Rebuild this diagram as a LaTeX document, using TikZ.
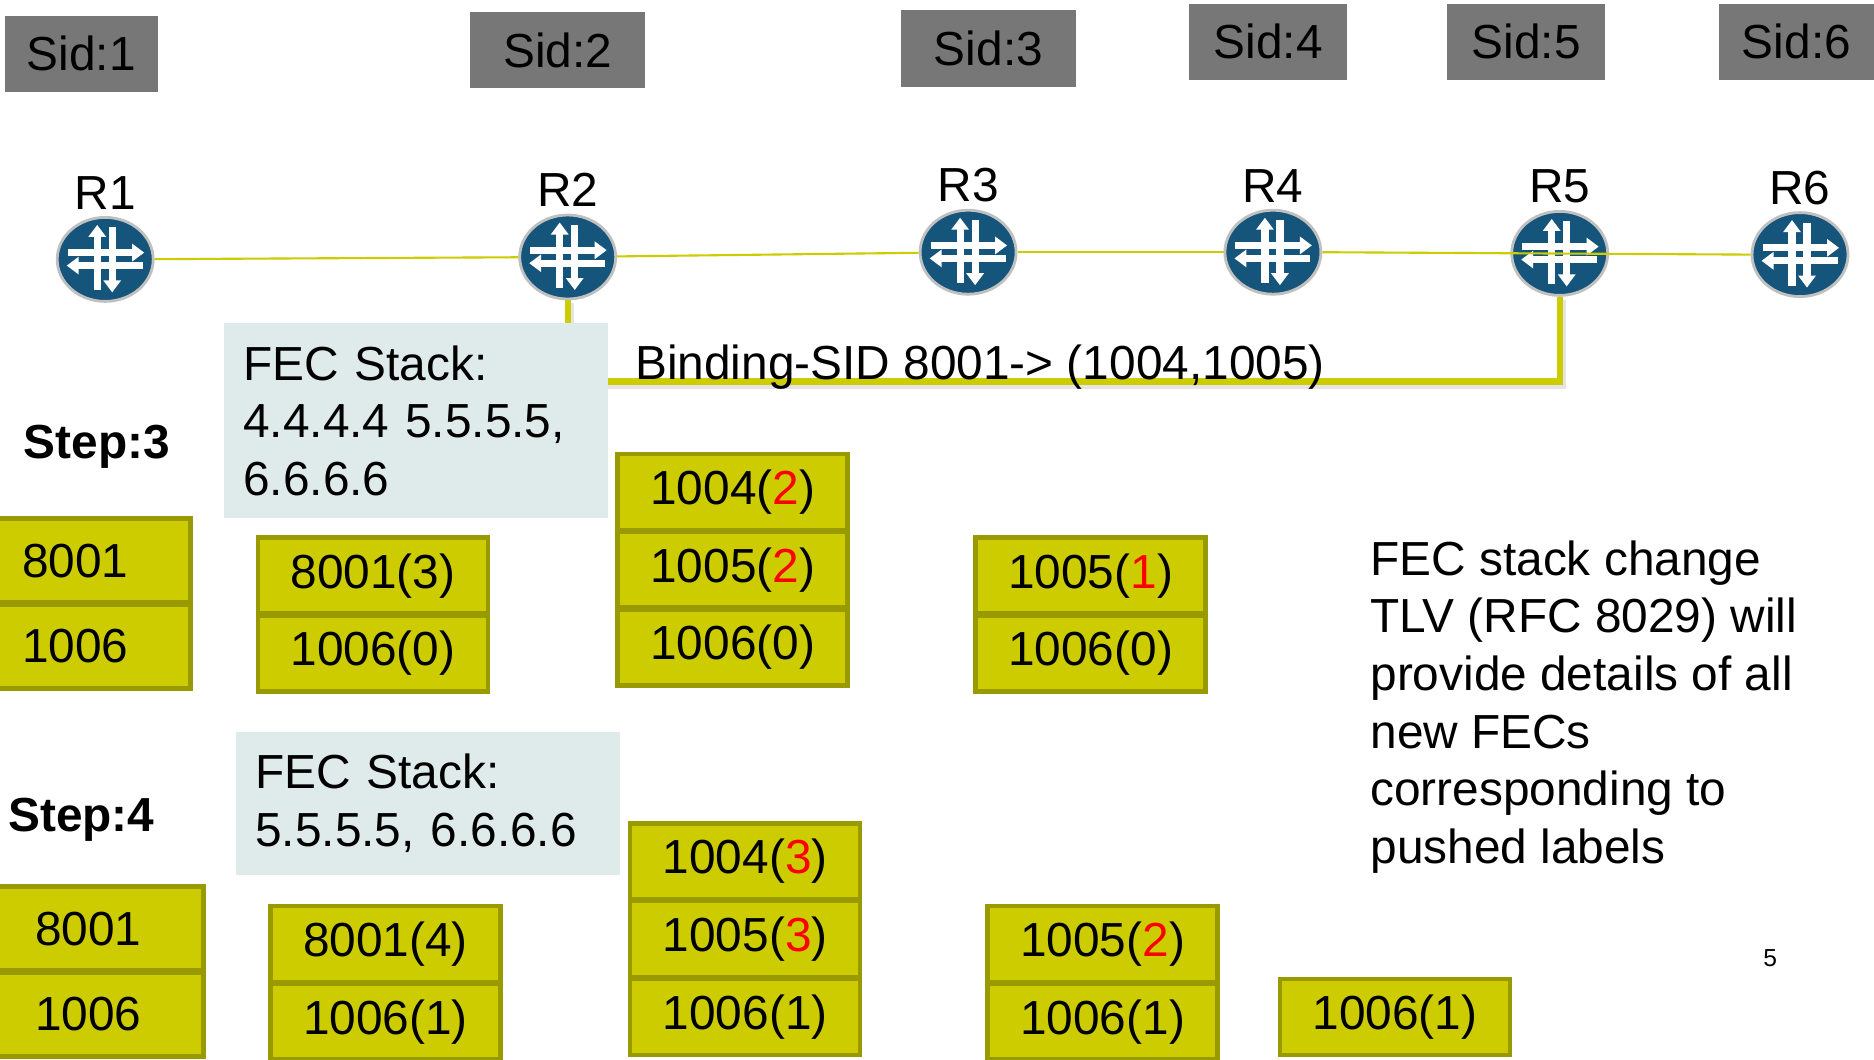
\documentclass[tikz,border=0pt]{standalone}
\usepackage{fontspec}
\setmainfont{Liberation Sans}
\usepackage{tikz}
\usetikzlibrary{arrows,shapes,calc}
\usetikzlibrary{arrows.meta}
\usetikzlibrary{positioning}
\definecolor{sidgray}{HTML}{777777}
\definecolor{rtblue}{HTML}{15547B}
\definecolor{rtrim}{HTML}{C0C0C0}
\definecolor{lnk}{HTML}{CCCC00}
\definecolor{lblfill}{HTML}{CCCC00}
\definecolor{lbldraw}{HTML}{999900}
\definecolor{fecfill}{HTML}{DFEBEB}
\newcommand{\fsz}{\fontsize{13.6pt}{16.4pt}\selectfont}
\newcommand{\redn}[1]{\textcolor{red}{#1}}
\tikzstyle{sid}=[fill=sidgray,inner sep=0,minimum height=0.765cm,font=\fsz]
\tikzstyle{router}=[ellipse,fill=rtblue,draw=rtrim,line width=0.8pt,minimum width=0.96cm,minimum height=0.84cm,inner sep=0]
\tikzstyle{icon}=[draw=white,line width=0.072cm,-{Triangle[width=0.17cm,length=0.12cm]}]
\tikzstyle{link}=[draw=lnk,line width=0.6pt]
\tikzstyle{bind}=[draw=lnk,line width=1.8pt,preaction={draw=black!10,line width=2.6pt,transform canvas={shift={(0.015,-0.03)}}}]
\tikzstyle{fecbox}=[fill=fecfill,anchor=north west,align=left,text width=3.455cm,inner xsep=0.191cm,inner ysep=0.22cm,font=\fsz]
\tikzstyle{lbl}=[fill=lblfill,draw=lbldraw,line width=1.3pt,outer sep=0,inner sep=0,minimum width=2.3cm,minimum height=0.76cm,font=\fsz]
\tikzstyle{lblA}=[lbl,minimum height=0.84cm]
\tikzstyle{txt}=[inner sep=0,font=\fsz]
\begin{document}
\begin{tikzpicture}
\useasboundingbox (0,0) rectangle (18.74,-10.59);
\fill[white] (0,0) rectangle (18.74,-10.59);
% segment ids
\foreach \i/\x/\y/\w in {1/0.813/-0.538/1.53,2/5.576/-0.502/1.757,3/9.884/-0.484/1.745,4/12.681/-0.418/1.578,5/15.263/-0.418/1.578,6/17.964/-0.418/1.553}
\node[sid,minimum width=\w cm] (sid\i) at (\x,\y) {Sid:\i};
% routers
\foreach \n/\x/\y in {R1/1.052/-2.594,R2/5.677/-2.570,R3/9.681/-2.522,R4/12.729/-2.522,R5/15.597/-2.534,R6/18.000/-2.546}{
\node[router,label={[txt,label distance=0.06cm]above:\n}] (\n) at (\x,\y) {};
\begin{scope}[shift={(\x,\y)}]
\draw[icon] (-0.08,-0.31) -- (-0.08,0.345);
\draw[icon] (0.07,0.32) -- (0.07,-0.33);
\draw[icon] (-0.375,0.068) -- (0.39,0.068);
\draw[icon] (0.375,-0.062) -- (-0.385,-0.062);
\end{scope}
}
\draw[link] (R1) -- (R2);
\draw[link] (R2) -- (R3);
\draw[link] (R3) -- (R4);
\draw[link] (R4.east) -- (R6.west);
% binding sid
\draw[bind] (R2.south) -- ([yshift=-0.81cm]R2.south) -| (R5.south);
\node[fecbox] (fec3) at (2.235,-3.227) {FEC Stack:\\4.4.4.4 5.5.5.5,\\6.6.6.6};
\node[fecbox] (fec4) at (2.355,-7.315) {FEC Stack:\\5.5.5.5, 6.6.6.6};
\node[txt,anchor=base west] (bindtxt) at (6.346,-3.792) {Binding-SID 8001-> (1004,1005)};
\node[txt,font=\fsz\bfseries,anchor=base] (step3) at (0.968,-4.581) {Step:3};
\node[txt,font=\fsz\bfseries,anchor=base] (step4) at (0.813,-8.310) {Step:4};
% step 3 stacks
\node[lblA] (a3a) at (0.754,-5.606) {8001};
\node[lblA,below=0.5pt of a3a] (a3b) {1006};
\node[lbl] (b3a) at (3.729,-5.757) {8001(3)};
\node[lbl,below=0.5pt of b3a] (b3b) {1006(0)};
\node[lbl] (c3a) at (7.327,-4.920) {1004(\redn{2})};
\node[lbl,below=0.5pt of c3a] (c3b) {1005(\redn{2})};
\node[lbl,below=0.5pt of c3b] (c3c) {1006(0)};
\node[lbl] (d3a) at (10.906,-5.757) {1005(\redn{1})};
\node[lbl,below=0.5pt of d3a] (d3b) {1006(0)};
% step 4 stacks
\node[lblA] (a4a) at (0.884,-9.287) {8001};
\node[lblA,below=0.5pt of a4a] (a4b) {1006};
\node[lbl] (b4a) at (3.855,-9.439) {8001(4)};
\node[lbl,below=0.5pt of b4a] (b4b) {1006(1)};
\node[lbl] (c4a) at (7.452,-8.614) {1004(\redn{3})};
\node[lbl,below=0.5pt of c4a] (c4b) {1005(\redn{3})};
\node[lbl,below=0.5pt of c4b] (c4c) {1006(1)};
\node[lbl] (d4a) at (11.026,-9.439) {1005(\redn{2})};
\node[lbl,below=0.5pt of d4a] (d4b) {1006(1)};
\node[lbl] (e4a) at (13.948,-10.168) {1006(1)};
\node[txt,anchor=north west,align=left] (note) at (13.697,-5.398) {FEC stack change\\TLV (RFC 8029) will\\provide details of all\\new FECs\\corresponding to\\pushed labels};
\node[txt,font=\fontsize{7pt}{8pt}\selectfont] (pgno) at (17.701,-9.586) {5};
\end{tikzpicture}
\end{document}
